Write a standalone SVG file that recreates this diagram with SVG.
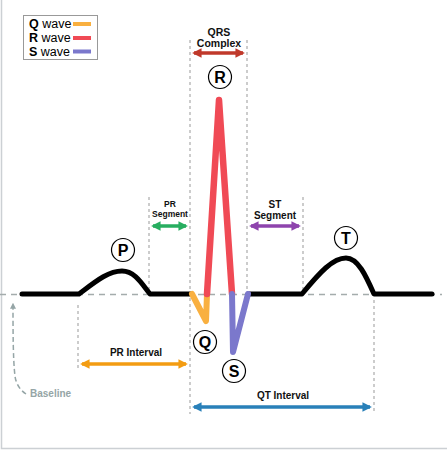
<svg xmlns="http://www.w3.org/2000/svg" width="447" height="452" viewBox="0 0 447 452">
<defs>
<style>
.t{font-family:"Liberation Sans",Arial,sans-serif;font-weight:bold;fill:#111}
.vd{stroke:#999;stroke-width:1;stroke-dasharray:3,3;fill:none}
.lbl{font-family:"Liberation Sans",Arial,sans-serif;font-weight:bold;font-size:16px;text-anchor:middle;fill:#000}
.circ{fill:#fff;stroke:#000;stroke-width:1.2}
.ecg{fill:none;stroke:#000;stroke-width:5;stroke-linejoin:round;stroke-linecap:round}
</style>
<marker id="mr" viewBox="0 0 10 10" refX="8" refY="5" markerWidth="2.7" markerHeight="2.7" orient="auto-start-reverse" markerUnits="strokeWidth"><path d="M0,0L10,5L0,10z" fill="#c0392b"/></marker>
<marker id="mg" viewBox="0 0 10 10" refX="8" refY="5" markerWidth="2.7" markerHeight="2.7" orient="auto-start-reverse" markerUnits="strokeWidth"><path d="M0,0L10,5L0,10z" fill="#27ae60"/></marker>
<marker id="mp" viewBox="0 0 10 10" refX="8" refY="5" markerWidth="2.7" markerHeight="2.7" orient="auto-start-reverse" markerUnits="strokeWidth"><path d="M0,0L10,5L0,10z" fill="#8e44ad"/></marker>
<marker id="mo" viewBox="0 0 10 10" refX="8" refY="5" markerWidth="2.7" markerHeight="2.7" orient="auto-start-reverse" markerUnits="strokeWidth"><path d="M0,0L10,5L0,10z" fill="#f39c12"/></marker>
<marker id="mb" viewBox="0 0 10 10" refX="8" refY="5" markerWidth="2.7" markerHeight="2.7" orient="auto-start-reverse" markerUnits="strokeWidth"><path d="M0,0L10,5L0,10z" fill="#2980b9"/></marker>
<marker id="mgr" viewBox="0 0 10 10" refX="8" refY="5" markerWidth="4" markerHeight="4" orient="auto" markerUnits="strokeWidth"><path d="M0,0L10,5L0,10z" fill="#95a5a6"/></marker>
</defs>
<rect width="447" height="452" fill="#fff"/>
<path d="M1.5,0V448.5H447" fill="none" stroke="#ccd0d4" stroke-width="1.5"/>

<g id="guides">
<line class="vd" x1="190" y1="40" x2="190" y2="414"/>
<line class="vd" x1="247" y1="40" x2="247" y2="294"/>
<line class="vd" x1="149" y1="197" x2="149" y2="294"/>
<line class="vd" x1="303" y1="197" x2="303" y2="294"/>
<line class="vd" x1="78" y1="305" x2="78" y2="370"/>
<line class="vd" x1="374" y1="300" x2="374" y2="414"/>
<line x1="0" y1="294.5" x2="442" y2="294.5" stroke="#a4acac" stroke-width="1.5" stroke-dasharray="6,5"/>
</g>

<g id="ecg">
<path class="ecg" d="M22,294H79C95,282 108,271 122,271C135,271 142,284 150,294H191"/>
<path class="ecg" d="M248,294H302C320,272 333,258 346,258C358,258 366,276 374,294H432"/>
<path d="M192,294L206,321L207,294" fill="none" stroke="#f9b040" stroke-width="6" stroke-linejoin="round" stroke-linecap="round"/>
<path d="M207,294L219,100L232,294" fill="none" stroke="#f04a55" stroke-width="6.5" stroke-linejoin="round" stroke-linecap="round"/>
<path d="M232,294L233,352L248,294" fill="none" stroke="#7b78cc" stroke-width="6" stroke-linejoin="round" stroke-linecap="round"/>
</g>

<g id="node-R"><circle class="circ" cx="220" cy="77" r="11.5"/><text class="lbl" x="220" y="83">R</text></g>
<g id="node-P"><circle class="circ" cx="123" cy="250" r="11.5"/><text class="lbl" x="123" y="256">P</text></g>
<g id="node-T"><circle class="circ" cx="346" cy="238" r="11.5"/><text class="lbl" x="346" y="244">T</text></g>
<g id="node-Q"><circle class="circ" cx="205" cy="342" r="11.5"/><text class="lbl" x="205" y="348">Q</text></g>
<g id="node-S"><circle class="circ" cx="234" cy="371" r="11.5"/><text class="lbl" x="234" y="377">S</text></g>

<g id="connectors">
<line x1="194" y1="53" x2="243" y2="53" stroke="#c0392b" stroke-width="3.5" marker-start="url(#mr)" marker-end="url(#mr)"/>
<line x1="153" y1="226" x2="186" y2="226" stroke="#27ae60" stroke-width="3.5" marker-start="url(#mg)" marker-end="url(#mg)"/>
<line x1="251" y1="226" x2="299" y2="226" stroke="#8e44ad" stroke-width="3.5" marker-start="url(#mp)" marker-end="url(#mp)"/>
<line x1="82" y1="364" x2="186" y2="364" stroke="#f39c12" stroke-width="3.5" marker-start="url(#mo)" marker-end="url(#mo)"/>
<line x1="194" y1="407" x2="370" y2="407" stroke="#2980b9" stroke-width="3.5" marker-start="url(#mb)" marker-end="url(#mb)"/>
<path d="M26,394C20,390 16,384 15,376C13,360 13,330 13,304" fill="none" stroke="#95a5a6" stroke-width="1.5" stroke-dasharray="5,3" marker-end="url(#mgr)"/>
</g>

<g id="labels">
<text class="t" x="219" y="36" font-size="10.5" text-anchor="middle">QRS</text>
<text class="t" x="219" y="47" font-size="10.5" text-anchor="middle">Complex</text>
<text class="t" x="170" y="207" font-size="8.5" text-anchor="middle">PR</text>
<text class="t" x="170" y="217" font-size="8.5" text-anchor="middle">Segment</text>
<text class="t" x="275" y="208" font-size="10" text-anchor="middle">ST</text>
<text class="t" x="275" y="219" font-size="10" text-anchor="middle">Segment</text>
<text class="t" x="136" y="356" font-size="10" text-anchor="middle">PR Interval</text>
<text class="t" x="283" y="399" font-size="10" text-anchor="middle">QT Interval</text>
<text x="30" y="397" font-family="Liberation Sans,Arial,sans-serif" font-weight="bold" font-size="10" fill="#95a5a6">Baseline</text>
</g>

<g id="legend">
<rect x="23.5" y="15.5" width="74" height="44" fill="#fff" stroke="#999" stroke-width="1"/>
<text x="29" y="28" font-family="Liberation Sans,Arial,sans-serif" font-size="12.5" fill="#000"><tspan font-weight="bold">Q</tspan> wave</text>
<text x="29" y="42" font-family="Liberation Sans,Arial,sans-serif" font-size="12.5" fill="#000"><tspan font-weight="bold">R</tspan> wave</text>
<text x="29" y="56" font-family="Liberation Sans,Arial,sans-serif" font-size="12.5" fill="#000"><tspan font-weight="bold">S</tspan> wave</text>
<line x1="73" y1="24" x2="91" y2="24" stroke="#f9b040" stroke-width="4"/>
<line x1="73" y1="38" x2="91" y2="38" stroke="#f04a55" stroke-width="4"/>
<line x1="73" y1="51.5" x2="91" y2="51.5" stroke="#7b78cc" stroke-width="4"/>
</g>
</svg>
